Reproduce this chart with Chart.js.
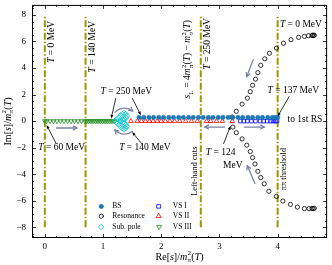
<!DOCTYPE html>
<html><head><meta charset="utf-8">
<script src="https://cdn.jsdelivr.net/npm/chart.js@4/dist/chart.umd.min.js"></script>
<style>html,body{margin:0;padding:0;background:#fff}#wrap{width:332px;height:265px}</style>
</head><body><div id="wrap"><canvas id="c" width="332" height="265"></canvas></div>
<script>
// ---- data ----
const xTickValues = [0, 1, 2, 3, 4];
const yTickValues = [-8, -6, -4, -2, 0, 2, 4, 6, 8];
const cutLines = [0, 0.7, 2.68, 4.0];

const bsRe = [1.62,1.70,1.79,1.87,1.96,2.04,2.13,2.21,2.30,2.38,2.47,2.55,2.64,2.72,2.81,2.89,2.98,3.06,3.15,3.23,3.32,3.40,3.49,3.57,3.66,3.74,3.83,3.91,3.96,4.00];
const bsIm = [0.28,0.28,0.28,0.28,0.28,0.28,0.28,0.28,0.28,0.28,0.28,0.28,0.28,0.28,0.28,0.28,0.28,0.28,0.28,0.28,0.28,0.28,0.28,0.28,0.28,0.28,0.28,0.28,0.28,0.28];

const resRe = [4.63,4.62,4.60,4.59,4.53,4.46,4.36,4.23,4.10,3.98,3.86,3.78,3.71,3.66,3.62,3.57,3.53,3.48,3.39,3.29,3.22,
               3.23,3.29,3.39,3.47,3.53,3.57,3.61,3.66,3.71,3.77,3.85,3.98,4.09,4.22,4.34,4.46,4.54,4.59,4.61,4.63];
const resIm = [6.47,6.45,6.47,6.44,6.43,6.38,6.30,6.13,5.87,5.50,5.11,4.69,4.20,3.65,3.16,2.70,2.22,1.73,1.28,0.74,0.30,
               -0.45,-0.87,-1.34,-1.81,-2.29,-2.75,-3.23,-3.78,-4.25,-4.72,-5.28,-5.67,-6.02,-6.27,-6.47,-6.59,-6.59,-6.57,-6.59,-6.56];

const subRe = [1.21,1.24,1.27,1.30,1.33,1.36,1.39,1.41,1.40,1.37,1.34,1.31,1.29,1.31,1.34,1.37,1.40,1.41,1.39,1.36,1.33,1.30,1.27,1.24];
const subIm = [0.05,0.15,0.28,0.42,0.55,0.62,0.55,0.40,0.25,0.15,0.08,0.02,0.00,-0.02,-0.08,-0.15,-0.25,-0.40,-0.55,-0.62,-0.55,-0.42,-0.28,-0.15];

const vsIRe = [3.36,3.42,3.48,3.55,3.62,3.70,3.76,3.82,3.88,3.92,3.96,3.99];
const vsIIm = [0,0,0,0,0,0,0,0,0,0,0,0];

const vsIIRe = [1.48,1.59,1.66,1.73,1.80,1.86,1.93,2.00,2.07,2.15,2.23,2.32,2.42,2.52,2.62,2.78,2.85,2.95,3.05,3.22];
const vsIIIm = [0,0,0,0,0,0,0,0,0,0,0,0,0,0,0,0,0,0,0,0];

const vsIIIRe = [0.00,0.03,0.09,0.15,0.21,0.27,0.33,0.39,0.45,0.51,0.57,0.63,0.69,0.72,0.75,0.78,0.81,0.84,0.87,0.90,0.93,0.96,0.99,1.02,1.05,1.08,1.11,1.14,1.17,1.20];
const vsIIIIm = [0,0,0,0,0,0,0,0,0,0,0,0,0,0,0,0,0,0,0,0,0,0,0,0,0,0,0,0,0,0];

const legendLabels = ['BS','Resonance','Sub. pole','VS I','VS II','VS III'];

// ---- build ----
const pts = (xs, ys) => xs.map((v, i) => ({x: v, y: ys[i]}));
const FAM = "'Liberation Serif','DejaVu Serif',serif";
Chart.defaults.font.family = FAM;
Chart.defaults.font.size = 9;
Chart.defaults.color = '#000';

const OLIVE = '#9a9a00';
const lineSets = cutLines.map(v => ({
  type: 'line', data: [{x: v, y: -8}, {x: v, y: 8}], borderColor: OLIVE, borderWidth: 2,
  borderDash: [7, 2, 1.5, 2], pointRadius: 0, fill: false, isCut: true, order: 10
}));

const markerSets = [
  {label: legendLabels[0], data: pts(bsRe, bsIm), pointStyle: 'circle', pointRadius: 2.2, backgroundColor: '#1f77b4', borderColor: '#1f77b4', pointBorderWidth: 0.5, rot: 0},
  {label: legendLabels[1], data: pts(resRe, resIm), pointStyle: 'circle', pointRadius: 2.1, backgroundColor: 'rgba(0,0,0,0)', borderColor: '#000', pointBorderWidth: 0.8, rot: 0},
  {label: legendLabels[2], data: pts(subRe, subIm), pointStyle: 'rectRot', pointRadius: 2.6, backgroundColor: 'rgba(0,0,0,0)', borderColor: '#10c8d0', pointBorderWidth: 0.9, rot: 0},
  {label: legendLabels[3], data: pts(vsIRe, vsIIm), pointStyle: 'rect', pointRadius: 2.5, backgroundColor: 'rgba(0,0,0,0)', borderColor: '#0000ff', pointBorderWidth: 0.8, rot: 0},
  {label: legendLabels[4], data: pts(vsIIRe, vsIIIm), pointStyle: 'triangle', pointRadius: 2.7, backgroundColor: 'rgba(0,0,0,0)', borderColor: '#ff0000', pointBorderWidth: 0.8, rot: 0},
  {label: legendLabels[5], data: pts(vsIIIRe, vsIIIIm), pointStyle: 'triangle', pointRadius: 2.6, pointRotation: 180, backgroundColor: 'rgba(0,0,0,0)', borderColor: '#1a8a1a', pointBorderWidth: 0.8, rot: 180}
].map(d => Object.assign({type: 'scatter', showLine: false, order: 1}, d));

// ---- rich text helper ----
function rich(ctx, segs, x, y, size, align, rot) {
  ctx.save();
  ctx.translate(x, y);
  if (rot) ctx.rotate(rot);
  const f = (it, sz) => (it ? 'italic ' : '') + sz + 'px ' + FAM;
  const small = size * 0.7;
  let w = 0;
  const items = segs.map(s => {
    if (s.sup !== undefined || s.sub !== undefined) {
      ctx.font = f(false, small);
      const w1 = s.sup ? ctx.measureText(s.sup).width : 0;
      const w2 = s.sub ? ctx.measureText(s.sub).width : 0;
      const ww = Math.max(w1, w2) + 0.6;
      w += ww; return {s, w: ww};
    }
    ctx.font = f(s.i, size);
    const ww = ctx.measureText(s.t).width;
    w += ww; return {s, w: ww};
  });
  let cx = align === 'left' ? 0 : align === 'right' ? -w : -w / 2;
  ctx.textBaseline = 'middle';
  ctx.textAlign = 'left';
  ctx.fillStyle = '#000';
  for (const it of items) {
    const s = it.s;
    if (s.sup !== undefined || s.sub !== undefined) {
      ctx.font = f(false, small);
      if (s.sup) ctx.fillText(s.sup, cx + 0.3, -size * 0.38);
      if (s.sub) ctx.fillText(s.sub, cx + 0.3, size * 0.32);
    } else {
      ctx.font = f(s.i, size);
      ctx.fillText(s.t, cx, 0);
    }
    cx += it.w;
  }
  ctx.restore();
}
const Tlab = txt => [{t: 'T', i: true}, {t: txt}];

function arrowSolid(ctx, x1, y1, x2, y2, color, lw, head) {
  ctx.strokeStyle = color; ctx.fillStyle = color; ctx.lineWidth = lw;
  const ang = Math.atan2(y2 - y1, x2 - x1);
  ctx.beginPath(); ctx.moveTo(x1, y1); ctx.lineTo(x2 - Math.cos(ang) * head * 0.6, y2 - Math.sin(ang) * head * 0.6); ctx.stroke();
  ctx.beginPath(); ctx.moveTo(x2, y2);
  ctx.lineTo(x2 - head * Math.cos(ang - 0.38), y2 - head * Math.sin(ang - 0.38));
  ctx.lineTo(x2 - head * Math.cos(ang + 0.38), y2 - head * Math.sin(ang + 0.38));
  ctx.closePath(); ctx.fill();
}
function arrowOpen(ctx, x1, y1, x2, y2, color, lw, head) {
  ctx.strokeStyle = color; ctx.lineWidth = lw; ctx.lineCap = 'round';
  const ang = Math.atan2(y2 - y1, x2 - x1);
  ctx.beginPath(); ctx.moveTo(x1, y1); ctx.lineTo(x2, y2); ctx.stroke();
  ctx.beginPath();
  ctx.moveTo(x2 - head * Math.cos(ang - 0.5), y2 - head * Math.sin(ang - 0.5));
  ctx.lineTo(x2, y2);
  ctx.lineTo(x2 - head * Math.cos(ang + 0.5), y2 - head * Math.sin(ang + 0.5));
  ctx.stroke();
}

const deco = {
  id: 'deco',
  afterDatasetsDraw(chart) {
    const {ctx, chartArea: a, scales: {x, y}} = chart;
    const X = v => x.getPixelForValue(v), Y = v => y.getPixelForValue(v);
    ctx.save();
    // frame
    ctx.strokeStyle = '#000'; ctx.lineWidth = 1;
    ctx.strokeRect(a.left + 0.5, a.top + 0.5, a.right - a.left - 1, a.bottom - a.top - 1);
    // inward ticks
    ctx.lineWidth = 0.8;
    const seg = (x1, y1, x2, y2) => { ctx.beginPath(); ctx.moveTo(x1, y1); ctx.lineTo(x2, y2); ctx.stroke(); };
    for (let i = -1; i <= 24; i++) {
      const v = i * 0.2, p = Math.round(X(v)) + 0.5, L = (i % 5 === 0) ? 4 : 2;
      if (p < a.left || p > a.right) continue;
      seg(p, a.bottom, p, a.bottom - L); seg(p, a.top, p, a.top + L);
    }
    for (let i = -17; i <= 17; i++) {
      const v = i * 0.5, p = Math.round(Y(v)) + 0.5, L = (i % 4 === 0) ? 4 : 2;
      if (p < a.top || p > a.bottom) continue;
      seg(a.left, p, a.left + L, p); seg(a.right, p, a.right - L, p);
    }
    // black pointer arrows
    const BK = '#000';
    arrowSolid(ctx, X(1.22), Y(1.74), X(1.14), Y(0.2), BK, 0.8, 4);
    arrowSolid(ctx, X(1.50), Y(1.74), X(1.65), Y(0.45), BK, 0.8, 4);
    arrowSolid(ctx, X(0.20), Y(-1.72), X(0.03), Y(-0.3), BK, 0.8, 4);
    arrowSolid(ctx, X(1.67), Y(-1.72), X(1.50), Y(-0.82), BK, 0.8, 4);
    arrowSolid(ctx, X(4.20), Y(1.87), X(4.00), Y(0.35), BK, 0.8, 4);
    arrowSolid(ctx, X(3.07), Y(-1.72), X(3.19), Y(-0.37), BK, 0.8, 4);
    // gray arrows
    const GR = '#7b80a6';
    arrowOpen(ctx, X(0.20), Y(-0.52), X(0.55), Y(-0.52), GR, 1.3, 4);
    arrowOpen(ctx, X(3.09), Y(-0.45), X(2.75), Y(-0.45), GR, 1.3, 4);
    arrowOpen(ctx, X(3.43), Y(-0.45), X(3.77), Y(-0.45), GR, 1.3, 4);
    arrowOpen(ctx, X(3.58), Y(4.63), X(3.47), Y(3.36), GR, 1.3, 4);
    arrowOpen(ctx, X(3.61), Y(-4.70), X(3.48), Y(-3.36), GR, 1.3, 4);
    // curved arrows around sub-threshold cluster
    const cx = X(1.37), cy = Y(0), r = 13;
    ctx.strokeStyle = GR; ctx.lineWidth = 1.3;
    ctx.beginPath(); ctx.arc(cx, cy, r, -2.4, -0.9); ctx.stroke();
    ctx.beginPath(); ctx.arc(cx, cy, r, 0.9, 2.4); ctx.stroke();
    const headAt = (ang, dir) => {
      const px = cx + r * Math.cos(ang), py = cy + r * Math.sin(ang);
      const t = ang + dir * Math.PI / 2;
      ctx.beginPath();
      ctx.moveTo(px - 4 * Math.cos(t - 0.5), py - 4 * Math.sin(t - 0.5));
      ctx.lineTo(px, py);
      ctx.lineTo(px - 4 * Math.cos(t + 0.5), py - 4 * Math.sin(t + 0.5));
      ctx.stroke();
    };
    headAt(-0.9, 1);
    headAt(2.4, 1);
    // labels
    const S = 9.5, R = -Math.PI / 2;
    rich(ctx, Tlab(' = 0 MeV'), X(0.12), Y(5.97), S, 'center', R);
    rich(ctx, Tlab(' = 140 MeV'), X(0.82), Y(5.60), S, 'center', R);
    rich(ctx, Tlab(' = 250 MeV'), X(1.40), Y(2.24), S, 'center');
    rich(ctx, Tlab(' = 60 MeV'), X(0.29), Y(-2.0), S, 'center');
    rich(ctx, Tlab(' = 140 MeV'), X(1.72), Y(-2.0), S, 'center');
    rich(ctx, [{t: 's', i: true}, {sub: 'L'}, {t: ' = 4'}, {t: 'm', i: true}, {sup: '2', sub: 'π'}, {t: '('}, {t: 'T', i: true}, {t: ') − '}, {t: 'm', i: true}, {sup: '2', sub: 'σ'}, {t: '('}, {t: 'T', i: true}, {t: ')'}], X(2.458), Y(4.66), S, 'center', R);
    rich(ctx, Tlab(' = 250 MeV'), X(2.80), Y(5.82), S, 'center', R);
    rich(ctx, Tlab(' = 0 MeV'), X(4.40), Y(7.24), S, 'center');
    rich(ctx, Tlab(' = 137 MeV'), X(4.27), Y(2.31), S, 'center');
    rich(ctx, [{t: 'to 1st RS'}], X(4.17), Y(0.15), S, 'left');
    rich(ctx, Tlab(' = 124'), X(3.02), Y(-2.39), S, 'center');
    rich(ctx, [{t: 'MeV'}], X(3.23), Y(-3.36), S, 'center');
    rich(ctx, [{t: 'Left-hand cuts'}], X(2.58), Y(-3.77), 8.5, 'center', R);
    rich(ctx, [{t: 'ππ threshold'}], X(4.11), Y(-3.62), 8.5, 'center', R);
    // legend
    const rows = [-6.42, -7.16, -7.95];
    const cols = [[0.97, 1.16], [1.96, 2.20]];
    markerSets.forEach((d, i) => {
      const c = cols[Math.floor(i / 3)], rr = rows[i % 3];
      ctx.save();
      ctx.fillStyle = d.backgroundColor; ctx.strokeStyle = d.borderColor; ctx.lineWidth = d.pointBorderWidth;
      Chart.helpers.drawPoint(ctx, {pointStyle: d.pointStyle, radius: d.pointRadius, rotation: d.rot, borderWidth: d.pointBorderWidth}, X(c[0]), Y(rr));
      ctx.restore();
      rich(ctx, [{t: d.label}], X(c[1]), Y(rr), 7.5, 'left');
    });
    // axis titles
    rich(ctx, [{t: 'Re['}, {t: 's', i: true}, {t: ']/'}, {t: 'm', i: true}, {sup: '2', sub: 'π'}, {t: '('}, {t: 'T', i: true}, {t: ')'}], (a.left + a.right) / 2, 257, 10, 'center');
    rich(ctx, [{t: 'Im['}, {t: 's', i: true}, {t: ']/'}, {t: 'm', i: true}, {sup: '2', sub: 'π'}, {t: '('}, {t: 'T', i: true}, {t: ')'}], 8, (a.top + a.bottom) / 2, 10, 'center', R);
    ctx.restore();
  }
};

new Chart(document.getElementById('c'), {
  type: 'scatter',
  data: {datasets: [...lineSets, ...markerSets]},
  options: {
    responsive: false, animation: false, devicePixelRatio: 1,
    layout: {padding: {top: 3, right: 3, left: 0, bottom: 0}},
    plugins: {legend: {display: false}, tooltip: {enabled: false}},
    scales: {
      x: {
        type: 'linear', min: -0.22, max: 4.85,
        grid: {display: false, drawTicks: false}, border: {display: false},
        afterBuildTicks: s => { s.ticks = xTickValues.map(v => ({value: v})); },
        afterFit: s => { s.height = 27; s.paddingLeft = 0; s.paddingRight = 0; },
        ticks: {padding: 3, maxRotation: 0, font: {size: 9}, callback: v => String(v).replace('-', '−')}
      },
      y: {
        type: 'linear', min: -8.8, max: 8.75,
        grid: {display: false, drawTicks: false}, border: {display: false},
        afterBuildTicks: s => { s.ticks = yTickValues.map(v => ({value: v})); },
        afterFit: s => { s.width = 32; s.paddingTop = 0; s.paddingBottom = 0; },
        ticks: {padding: 6, font: {size: 9}, callback: v => String(v).replace('-', '−')}
      }
    }
  },
  plugins: [deco]
});
</script>
</body></html>
